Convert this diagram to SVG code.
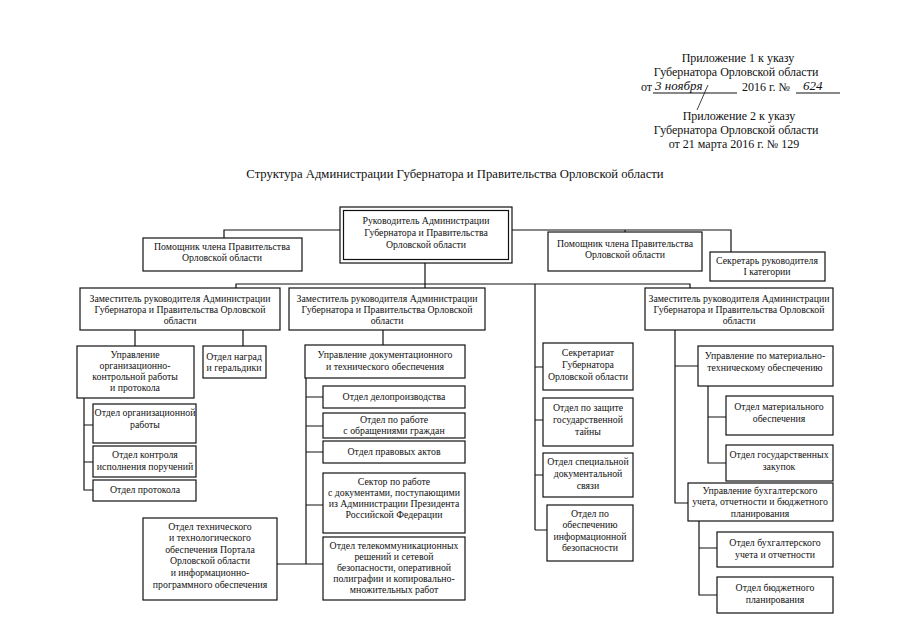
<svg xmlns="http://www.w3.org/2000/svg" width="905" height="640" viewBox="0 0 905 640">
<style>
text{font-family:"Liberation Serif","Times New Roman",serif;fill:#111;}
.h{font-size:12px;text-anchor:middle;}
.t{font-size:12.7px;text-anchor:middle;}
.b{font-size:9.8px;text-anchor:middle;}
.hw{font-family:"Liberation Serif",serif;font-style:italic;font-size:13px;}
rect{fill:#fff;stroke:#111;stroke-width:1.2;}
#connectors path{fill:none;stroke:#111;stroke-width:1.2;}
</style>
<rect x="0" y="0" width="905" height="640" style="fill:#fff;stroke:none"/>

<g id="header">
<text class="h" x="738" y="62">Приложение 1 к указу</text>
<text class="h" x="736" y="76">Губернатора Орловской области</text>
<text x="641" y="91" style="font-size:12px">от</text>
<text class="hw" x="655" y="90">3 ноября</text>
<path d="M653 93 H737 M796 93 H840" style="stroke:#111;stroke-width:1;fill:none"/>
<text x="742" y="91" style="font-size:12px">2016 г. №</text>
<text class="hw" x="803" y="90">624</text>
<path d="M708 85 L697 110" style="stroke:#111;stroke-width:0.8;fill:none"/>
<text class="h" x="739" y="120">Приложение 2 к указу</text>
<text class="h" x="736" y="134">Губернатора Орловской области</text>
<text class="h" x="734" y="148">от 21 марта 2016 г. № 129</text>
</g>

<text class="t" x="455" y="178">Структура Администрации Губернатора и Правительства Орловской области</text>

<g id="connectors">
<path d="M224 238 V230 H340 M512 230 H731 V252 M625 230 V232"/>
<path d="M425 263 V288 M236 288 V284 H690 V288"/>
<path d="M535 284 V530 M535 367 H543 M535 420 H543 M535 475 H543 M535 530 H547"/>
<path d="M135 330 V346 M243 330 V346"/>
<path d="M84 398 V490 H93 M84 425 H93 M84 462 H93"/>
<path d="M383 330 V345"/>
<path d="M306 378 V564 M306 397 H323 M306 426 H323 M306 452 H323 M306 505 H323 M277 564 H323"/>
<path d="M675 330 V503 H688 M675 366 H698"/>
<path d="M708 386 V463 H726 M708 417 H726"/>
<path d="M699 521 V595 H717 M699 548 H717"/>
</g>

<g id="head">
<rect x="340" y="207" width="172" height="56"/>
<rect x="343.5" y="210.5" width="165" height="49"/>
<text class="b" x="426" y="224">Руководитель Администрации</text>
<text class="b" x="426" y="236">Губернатора и Правительства</text>
<text class="b" x="426" y="248">Орловской области</text>
</g>

<g id="helper-left">
<rect x="143" y="238" width="159" height="33"/>
<text class="b" x="222" y="250">Помощник члена Правительства</text>
<text class="b" x="222" y="261">Орловской области</text>
</g>

<g id="helper-right">
<rect x="548" y="232" width="154" height="39"/>
<text class="b" x="625" y="247">Помощник члена Правительства</text>
<text class="b" x="625" y="258">Орловской области</text>
</g>

<g id="secretary">
<rect x="710" y="252" width="115" height="29"/>
<text class="b" x="767" y="264">Секретарь руководителя</text>
<text class="b" x="767" y="275">I категории</text>
</g>

<g id="deputy-left">
<rect x="80" y="288" width="200" height="42"/>
<text class="b" x="180" y="302">Заместитель руководителя Администрации</text>
<text class="b" x="180" y="313">Губернатора и Правительства Орловской</text>
<text class="b" x="180" y="324">области</text>
</g>

<g id="deputy-mid">
<rect x="289" y="288" width="196" height="42"/>
<text class="b" x="387" y="302">Заместитель руководителя Администрации</text>
<text class="b" x="387" y="313">Губернатора и Правительства Орловской</text>
<text class="b" x="387" y="324">области</text>
</g>

<g id="deputy-right">
<rect x="645" y="288" width="188" height="42"/>
<text class="b" x="739" y="302">Заместитель руководителя Администрации</text>
<text class="b" x="739" y="313">Губернатора и Правительства Орловской</text>
<text class="b" x="739" y="324">области</text>
</g>

<g id="upr-org">
<rect x="77" y="346" width="117" height="52"/>
<text class="b" x="135" y="358">Управление</text>
<text class="b" x="135" y="369">организационно-</text>
<text class="b" x="135" y="380">контрольной работы</text>
<text class="b" x="135" y="391">и протокола</text>
</g>

<g id="otd-nagrad">
<rect x="203" y="346" width="63" height="32"/>
<text class="b" x="234" y="360">Отдел наград</text>
<text class="b" x="234" y="371">и геральдики</text>
</g>

<g id="otd-org">
<rect x="93" y="404" width="103" height="39"/>
<text class="b" x="145" y="416">Отдел организационной</text>
<text class="b" x="145" y="428">работы</text>
</g>

<g id="otd-kontrol">
<rect x="93" y="446" width="103" height="31"/>
<text class="b" x="145" y="458">Отдел контроля</text>
<text class="b" x="145" y="470">исполнения поручений</text>
</g>

<g id="otd-protokol">
<rect x="93" y="480" width="103" height="21"/>
<text class="b" x="145" y="493">Отдел протокола</text>
</g>

<g id="upr-doc">
<rect x="305" y="345" width="160" height="33"/>
<text class="b" x="385" y="358">Управление документационного</text>
<text class="b" x="385" y="370">и технического обеспечения</text>
</g>

<g id="otd-delo">
<rect x="323" y="386" width="142" height="22"/>
<text class="b" x="394" y="400">Отдел делопроизводства</text>
</g>

<g id="otd-obrash">
<rect x="323" y="413" width="142" height="25"/>
<text class="b" x="394" y="423">Отдел по работе</text>
<text class="b" x="394" y="434">с обращениями граждан</text>
</g>

<g id="otd-pravo">
<rect x="323" y="441" width="142" height="22"/>
<text class="b" x="394" y="455">Отдел правовых актов</text>
</g>

<g id="sektor">
<rect x="323" y="473" width="142" height="60"/>
<text class="b" x="394" y="485">Сектор по работе</text>
<text class="b" x="394" y="496">с документами, поступающими</text>
<text class="b" x="394" y="507">из Администрации Президента</text>
<text class="b" x="394" y="518">Российской Федерации</text>
</g>

<g id="otd-telecom">
<rect x="323" y="537" width="142" height="63"/>
<text class="b" x="394" y="549">Отдел телекоммуникационных</text>
<text class="b" x="394" y="560">решений и сетевой</text>
<text class="b" x="394" y="571">безопасности, оперативной</text>
<text class="b" x="394" y="582">полиграфии и копировально-</text>
<text class="b" x="394" y="593">множительных работ</text>
</g>

<g id="otd-tech">
<rect x="143" y="518" width="134" height="82"/>
<text class="b" x="210" y="530">Отдел технического</text>
<text class="b" x="210" y="541">и технологического</text>
<text class="b" x="210" y="553">обеспечения Портала</text>
<text class="b" x="210" y="564">Орловской области</text>
<text class="b" x="210" y="576">и информационно-</text>
<text class="b" x="210" y="588">программного обеспечения</text>
</g>

<g id="sekretariat">
<rect x="543" y="343" width="90" height="47"/>
<text class="b" x="588" y="356">Секретариат</text>
<text class="b" x="588" y="368">Губернатора</text>
<text class="b" x="588" y="380">Орловской области</text>
</g>

<g id="otd-tayna">
<rect x="543" y="398" width="90" height="48"/>
<text class="b" x="588" y="411">Отдел по защите</text>
<text class="b" x="588" y="423">государственной</text>
<text class="b" x="588" y="435">тайны</text>
</g>

<g id="otd-svyaz">
<rect x="543" y="453" width="90" height="44"/>
<text class="b" x="588" y="465">Отдел специальной</text>
<text class="b" x="588" y="477">документальной</text>
<text class="b" x="588" y="489">связи</text>
</g>

<g id="otd-infobez">
<rect x="547" y="505" width="86" height="56"/>
<text class="b" x="590" y="517">Отдел по</text>
<text class="b" x="590" y="528">обеспечению</text>
<text class="b" x="590" y="540">информационной</text>
<text class="b" x="590" y="551">безопасности</text>
</g>

<g id="upr-mat">
<rect x="698" y="346" width="135" height="40"/>
<text class="b" x="765" y="359">Управление по материально-</text>
<text class="b" x="765" y="371">техническому обеспечению</text>
</g>

<g id="otd-mat">
<rect x="726" y="396" width="107" height="39"/>
<text class="b" x="779" y="410">Отдел материального</text>
<text class="b" x="779" y="422">обеспечения</text>
</g>

<g id="otd-zakup">
<rect x="726" y="445" width="107" height="36"/>
<text class="b" x="779" y="458">Отдел государственных</text>
<text class="b" x="779" y="470">закупок</text>
</g>

<g id="upr-buh">
<rect x="688" y="483" width="145" height="38"/>
<text class="b" x="760" y="494">Управление бухгалтерского</text>
<text class="b" x="760" y="505">учета, отчетности и бюджетного</text>
<text class="b" x="760" y="517">планирования</text>
</g>

<g id="otd-buh">
<rect x="717" y="532" width="116" height="35"/>
<text class="b" x="775" y="546">Отдел бухгалтерского</text>
<text class="b" x="775" y="558">учета и отчетности</text>
</g>

<g id="otd-budget">
<rect x="717" y="577" width="116" height="36"/>
<text class="b" x="775" y="591">Отдел бюджетного</text>
<text class="b" x="775" y="603">планирования</text>
</g>
</svg>
